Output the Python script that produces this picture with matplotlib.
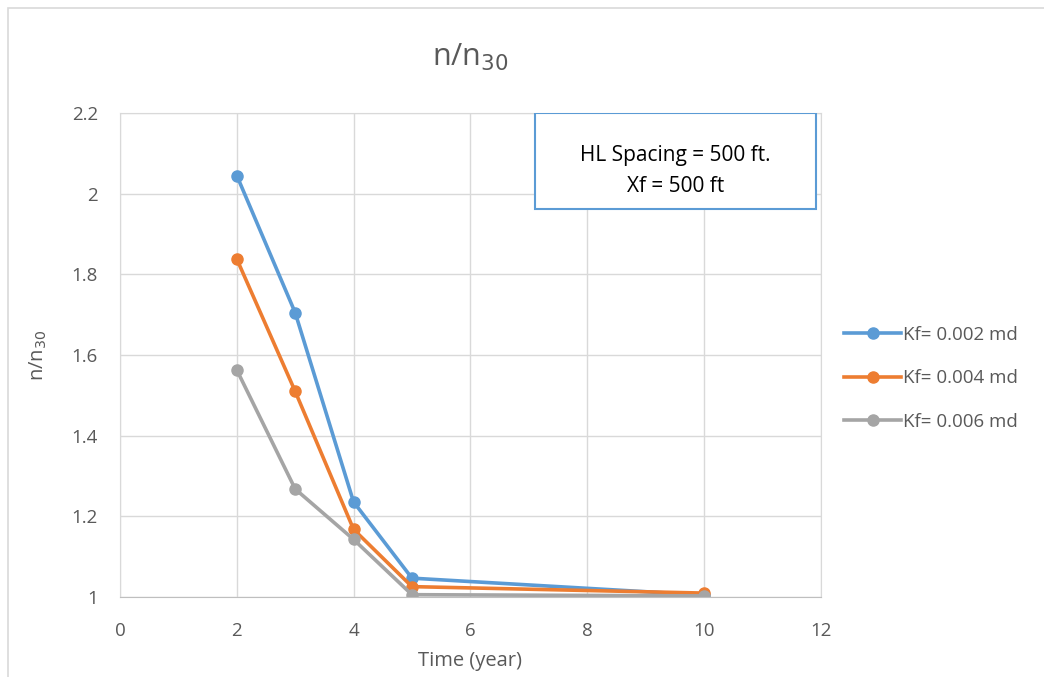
import matplotlib.pyplot as plt
from matplotlib.patches import Rectangle

plt.rcParams['font.family'] = ['Open Sans', 'DejaVu Sans']

time_yr = [2, 3, 4, 5, 10]
kf_002 = [2.045, 1.705, 1.236, 1.047, 1.005]
kf_004 = [1.838, 1.510, 1.168, 1.026, 1.010]
kf_006 = [1.563, 1.268, 1.143, 1.006, 1.003]
labels = ["Kf= 0.002 md", "Kf= 0.004 md", "Kf= 0.006 md"]
colors = ["#5b9bd5", "#ed7d31", "#a5a5a5"]
txt = "#595959"

fig = plt.figure(figsize=(10.44, 6.77), dpi=100)
ax = fig.add_axes([0.115, 0.118, 0.671, 0.715])

# chart border
fig.patches.append(Rectangle((8/1044, -0.01), 1.0, 1 - 8/677 + 0.01, transform=fig.transFigure,
                             fill=False, edgecolor="#d9d9d9", linewidth=1.2))

for ys, lab, c in zip([kf_002, kf_004, kf_006], labels, colors):
    ax.plot(time_yr, ys, color=c, lw=2.6, marker='o', ms=8, label=lab)

ax.set_xlim(0, 12)
ax.set_ylim(1, 2.2)
ax.set_xticks(range(0, 13, 2))
ax.set_yticks([1, 1.2, 1.4, 1.6, 1.8, 2, 2.2])
ax.set_yticklabels(["1", "1.2", "1.4", "1.6", "1.8", "2", "2.2"])
ax.grid(True, color="#d9d9d9", lw=1)
ax.set_axisbelow(True)
for s in ax.spines.values():
    s.set_color("#d9d9d9")
ax.spines['bottom'].set_color("#bfbfbf")
ax.tick_params(axis='x', length=0, labelsize=13.5, colors=txt, pad=18)
ax.tick_params(axis='y', length=0, labelsize=13.5, colors=txt, pad=16)

ax.set_title("n/n$_{30}$", fontsize=22, color=txt, pad=34)
ax.set_xlabel("Time (year)", fontsize=14.5, color=txt, labelpad=8)
ax.set_ylabel("n/n$_{30}$", fontsize=14.5, color=txt, labelpad=16)

# annotation box
ax.add_patch(Rectangle((0.592, 0.802), 0.402, 0.198, transform=ax.transAxes,
                       fill=True, facecolor="white", edgecolor="#5b9bd5", lw=1.5, zorder=5))
ax.text(0.793, 0.912, "HL Spacing = 500 ft.", transform=ax.transAxes, ha='center', va='center',
        fontsize=15, color="black", zorder=6)
ax.text(0.793, 0.848, "Xf = 500 ft", transform=ax.transAxes, ha='center', va='center',
        fontsize=15, color="black", zorder=6)

leg = ax.legend(loc='center left', bbox_to_anchor=(1.01, 0.452), frameon=False,
                fontsize=13.5, labelcolor=txt, handlelength=3.0, handletextpad=0.1,
                labelspacing=1.35)

fig.savefig("out.png", dpi=100)
